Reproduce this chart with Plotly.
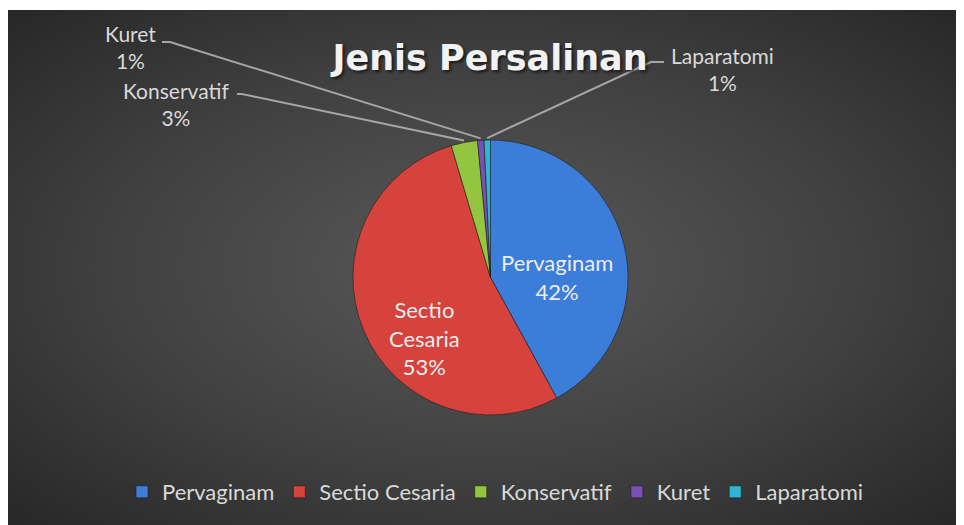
import base64
import math
import plotly.graph_objects as go

# ---- data ----
labels = ["Pervaginam", "Sectio Cesaria", "Konservatif", "Kuret", "Laparatomi"]
values = [42.0, 53.4, 3.1, 0.75, 0.75]
colors = ["#3b7dd8", "#d6423c", "#93c63e", "#7a4fb6", "#2fb4d2"]
title_text = "Jenis Persalinan"

# ---- layout geometry (page pixels; the page body adds an 8px margin) ----
OFF = 8
W, H = 964 - OFF, 525 - OFF
CX, CY, R = 490.5, 277.5, 137.5


def px(x):
    return (x - OFF) / W


def py(y):
    return 1 - (y - OFF) / H


total = sum(values)
pct = [f"{round(v / total * 100):d}%" for v in values]

# mid angle (clockwise from 12 o'clock) of each slice
mid = []
acc = 0.0
for v in values:
    a0 = acc / total * 360
    acc += v
    a1 = acc / total * 360
    mid.append((a0 + a1) / 2)


def edge(i, extra=2.0):
    a = math.radians(mid[i])
    return CX + (R + extra) * math.sin(a), CY - (R + extra) * math.cos(a)


fig = go.Figure()
fig.add_trace(go.Pie(
    labels=labels,
    values=values,
    sort=False,
    direction="clockwise",
    rotation=0,
    textinfo="none",
    hoverinfo="label+percent",
    marker=dict(colors=colors, line=dict(color="rgba(25,25,25,0.55)", width=1)),
    domain=dict(x=[px(CX - R), px(CX + R)], y=[py(CY + R), py(CY - R)]),
))

# background radial gradient
svg = (
    "<svg xmlns='http://www.w3.org/2000/svg' viewBox='0 0 100 100' preserveAspectRatio='none'>"
    "<defs><radialGradient id='g' cx='0.5' cy='0.5' r='0.72'>"
    "<stop offset='0' stop-color='#595959'/>"
    "<stop offset='0.55' stop-color='#404040'/>"
    "<stop offset='1' stop-color='#262626'/>"
    "</radialGradient></defs>"
    "<rect width='100' height='100' fill='url(#g)'/></svg>"
)
src = "data:image/svg+xml;base64," + base64.b64encode(svg.encode()).decode()

label_font = dict(family="Lato, sans-serif", size=21, color="#d9d9d9")
inside_font = dict(family="Lato, sans-serif", size=22, color="#ececec")

annotations = [
    dict(text=f"Pervaginam<br>{pct[0]}", x=px(557), y=py(277), font=inside_font),
    dict(text=f"Sectio<br>Cesaria<br>{pct[1]}", x=px(424), y=py(338), font=inside_font),
    dict(text=f"Kuret<br>{pct[3]}", x=px(131), y=py(47), font=label_font),
    dict(text=f"Konservatif<br>{pct[2]}", x=px(176), y=py(104), font=label_font),
    dict(text=f"Laparatomi<br>{pct[4]}", x=px(722), y=py(69), font=label_font),
]
for a in annotations:
    a.update(xref="paper", yref="paper", showarrow=False, xanchor="center", yanchor="middle")

shapes = []
leaders = [
    (3, (162, 42), (170, 42)),
    (2, (237, 94), (242, 94)),
    (4, (664, 62), (651, 62)),
]
for i, p0, p1 in leaders:
    ex, ey = edge(i)
    path = f"M {px(p0[0])},{py(p0[1])} L {px(p1[0])},{py(p1[1])} L {px(ex)},{py(ey)}"
    shapes.append(dict(type="path", xref="paper", yref="paper", path=path,
                       line=dict(color="#a6a6a6", width=2)))

fig.update_layout(
    width=W, height=H,
    margin=dict(l=0, r=0, t=0, b=0),
    paper_bgcolor="white",
    plot_bgcolor="rgba(0,0,0,0)",
    images=[dict(source=src, xref="paper", yref="paper", x=0, y=py(10),
                 sizex=1, sizey=py(10), xanchor="left", yanchor="top",
                 sizing="stretch", layer="below")],
    title=dict(text=title_text, x=px(490), y=py(58), xanchor="center", yanchor="middle",
               xref="paper", yref="paper",
               font=dict(family="DejaVu Sans, sans-serif", size=35, color="#f2f2f2",
                         weight="bold", shadow="2px 2px 3px rgba(0,0,0,0.6)")),
    showlegend=True,
    legend=dict(orientation="h", x=px(495.5), y=py(492), xanchor="center", yanchor="middle",
                font=dict(family="Lato, sans-serif", size=22, color="#d9d9d9"),
                bgcolor="rgba(0,0,0,0)"),
    annotations=annotations,
    shapes=shapes,
)

fig.write_html("out.html")
